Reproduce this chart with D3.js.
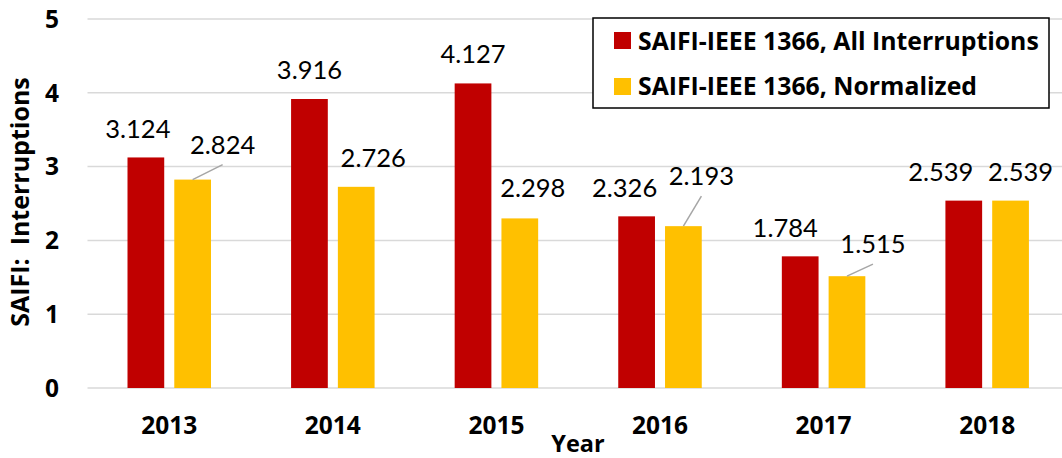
<!DOCTYPE html>
<html>
<head>
<meta charset="utf-8">
<script src="https://cdn.jsdelivr.net/npm/d3@7/dist/d3.min.js"></script>
<style>
    body { margin: 0; background: #fff; }
    svg { display: block; font-family: Lato, "Liberation Sans", sans-serif; }
    .bold { font-family: "Open Sans", "Liberation Sans", sans-serif; font-weight: bold; }
</style>
</head>
<body>
<script>
// data
var years = ["2013", "2014", "2015", "2016", "2017", "2018"];
var allInterruptions = [3.124, 3.916, 4.127, 2.326, 1.784, 2.539];
var normalized = [2.824, 2.726, 2.298, 2.193, 1.515, 2.539];
var seriesNames = ["SAIFI-IEEE 1366, All Interruptions", "SAIFI-IEEE 1366, Normalized"];
var yTicks = [0, 1, 2, 3, 4, 5];

// label nudges (dx, dy from bar top centre), like Excel's hand-moved labels
var nudgeAll = [[-8, -19], [0, -20], [0, -20], [-12, -19], [-15, -19], [-23, -20]];
var nudgeNorm = [[30, -26], [17, -20], [13, -21], [18, -41], [26, -23], [10, -20]];
var leader = [true, false, false, true, true, false];

var w = 1062, h = 458;
var colors = ["#C00000", "#FFC000"];

var svg = d3.select("body").append("svg")
    .attr("width", w)
    .attr("height", h);

var x0 = d3.scaleBand()
    .domain(years)
    .range([87.5, 1069]);

var x1 = d3.scaleBand()
    .domain([0, 1])
    .range([40, 123.5])
    .paddingInner(0.215);

var y = d3.scaleLinear()
    .domain([0, 5])
    .range([388, 19]);

// gridlines
svg.selectAll("line.grid")
    .data(yTicks).enter()
    .append("line")
    .attr("class", "grid")
    .attr("x1", 87.5).attr("x2", w)
    .attr("y1", function (d) { return y(d); })
    .attr("y2", function (d) { return y(d); })
    .attr("stroke", "#d9d9d9")
    .attr("stroke-width", 1.5);

// y tick labels
svg.selectAll("text.ytick")
    .data(yTicks).enter()
    .append("text")
    .attr("class", "ytick bold")
    .attr("x", 59)
    .attr("y", function (d) { return y(d); })
    .attr("dy", "0.36em")
    .attr("text-anchor", "end")
    .attr("font-size", 24.5)
    .text(function (d) { return d; });

// bars
var rows = years.map(function (yr, i) {
    return { year: yr, vals: [allInterruptions[i], normalized[i]], i: i };
});

var groups = svg.selectAll("g.year")
    .data(rows).enter()
    .append("g")
    .attr("class", "year")
    .attr("transform", function (d) { return "translate(" + x0(d.year) + ",0)"; });

groups.selectAll("rect")
    .data(function (d) { return d.vals.map(function (v, k) { return { v: v, k: k }; }); })
    .enter()
    .append("rect")
    .attr("x", function (d) { return x1(d.k); })
    .attr("y", function (d) { return y(d.v); })
    .attr("width", x1.bandwidth())
    .attr("height", function (d) { return y(0) - y(d.v); })
    .attr("fill", function (d) { return colors[d.k]; });

// leader lines for the moved labels
groups.each(function (d) {
    var g = d3.select(this);
    var i = d.i;
    if (leader[i]) {
        var cx = x1(1) + x1.bandwidth() / 2;
        g.append("line")
            .attr("x1", cx)
            .attr("y1", y(normalized[i]))
            .attr("x2", cx + nudgeNorm[i][0])
            .attr("y2", y(normalized[i]) + nudgeNorm[i][1] + 11)
            .attr("stroke", "#a6a6a6")
            .attr("stroke-width", 1.5);
    }
    [allInterruptions, normalized].forEach(function (arr, k) {
        var nudge = k === 0 ? nudgeAll[i] : nudgeNorm[i];
        g.append("text")
            .attr("x", x1(k) + x1.bandwidth() / 2 + nudge[0])
            .attr("y", y(arr[i]) + nudge[1])
            .attr("text-anchor", "middle")
            .attr("font-size", 25.5)
            .attr("fill", "#000")
            .text(arr[i].toFixed(3));
    });
});

// x tick labels
svg.selectAll("text.xtick")
    .data(years).enter()
    .append("text")
    .attr("class", "xtick bold")
    .attr("x", function (d) { return x0(d) + x0.bandwidth() / 2; })
    .attr("y", 434)
    .attr("text-anchor", "middle")
    .attr("font-size", 24.5)
    .text(function (d) { return d; });

// axis titles
svg.append("text")
    .attr("class", "bold")
    .attr("x", 578)
    .attr("y", 452)
    .attr("text-anchor", "middle")
    .attr("font-size", 23.5)
    .text("Year");

svg.append("text")
    .attr("class", "bold")
    .attr("transform", "translate(29,202) rotate(-90)")
    .attr("text-anchor", "middle")
    .attr("font-size", 25)
    .style("white-space", "pre")
    .text("SAIFI:  Interruptions");

// legend
var legend = svg.append("g");
legend.append("rect")
    .attr("x", 593).attr("y", 18)
    .attr("width", 456).attr("height", 90)
    .attr("fill", "#fff")
    .attr("stroke", "#000")
    .attr("stroke-width", 1.5);

seriesNames.forEach(function (name, k) {
    legend.append("rect")
        .attr("x", 614).attr("y", 32 + k * 46)
        .attr("width", 17).attr("height", 17)
        .attr("fill", colors[k]);
    legend.append("text")
        .attr("class", "bold")
        .attr("x", 638).attr("y", 49.5 + k * 45)
        .attr("font-size", 24.8)
        .text(name);
});
</script>
</body>
</html>
